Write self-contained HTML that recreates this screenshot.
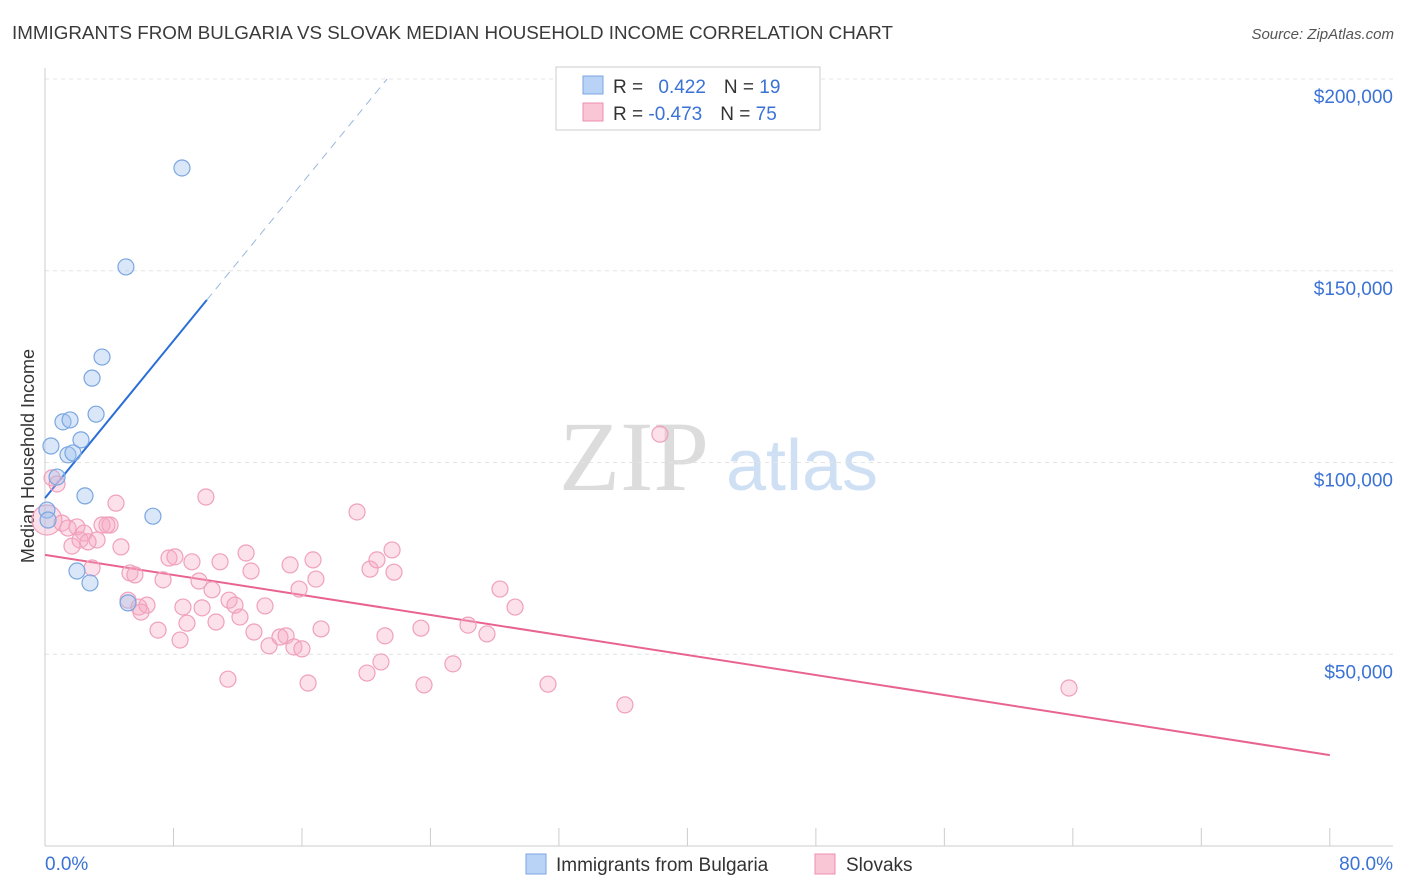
<!DOCTYPE html>
<html><head><meta charset="utf-8"><style>
body{margin:0;background:#fff;font-family:"Liberation Sans",sans-serif;}
svg{display:block}
</style></head><body>
<svg id="chart" width="1406" height="892">
<text x="12" y="39" font-size="18.5" textLength="881" lengthAdjust="spacingAndGlyphs" fill="#3a3a3a">IMMIGRANTS FROM BULGARIA VS SLOVAK MEDIAN HOUSEHOLD INCOME CORRELATION CHART</text>
<text x="1394" y="39" font-size="15" fill="#555" text-anchor="end" font-style="italic">Source: ZipAtlas.com</text>
<text x="634" y="490" font-size="100" fill="#dcdcdc" font-family="Liberation Serif,serif" text-anchor="middle">ZIP</text>
<text x="802" y="490" font-size="72" fill="#cfe0f4" text-anchor="middle">atlas</text>
<text transform="translate(34,456) rotate(-90)" font-size="18" fill="#333" text-anchor="middle">Median Household Income</text>
<g id="grid"></g><g id="axes"></g><g id="lines"></g><g id="pts"></g>
<g>
<rect x="556" y="67" width="264" height="63" fill="#fff" stroke="#ccc"/>
<rect x="583" y="76" width="20" height="18" fill="#b8d3f5" stroke="#7aa6e0"/>
<rect x="583" y="103" width="20" height="18" fill="#f8c6d5" stroke="#ee8fb0"/>
<text x="613" y="93" font-size="19" fill="#333">R = <tspan fill="#3a72d6" dx="10">0.422</tspan><tspan dx="18">N = </tspan><tspan fill="#3a72d6">19</tspan></text>
<text x="613" y="120" font-size="19" fill="#333">R = <tspan fill="#3a72d6">-0.473</tspan><tspan dx="18">N = </tspan><tspan fill="#3a72d6">75</tspan></text>
</g>
<g>
<rect x="526" y="854" width="20" height="20" fill="#b8d3f5" stroke="#7aa6e0"/>
<text x="556" y="871" font-size="19" fill="#333">Immigrants from Bulgaria</text>
<rect x="815" y="854" width="20" height="20" fill="#f8c6d5" stroke="#ee8fb0"/>
<text x="846" y="871" font-size="19" fill="#333">Slovaks</text>
</g>
</svg>
<script>
const yTicks=[50,100,150,200];
const yTickLabels=["$50,000","$100,000","$150,000","$200,000"];
const xTickVals=[0,8,16,24,32,40,48,56,64,72,80];
const bluX=[8.53,5.04,3.55,2.93,3.18,1.12,1.56,2.24,0.37,1.43,1.74,0.75,2.49,6.72,0.12,1.99,2.80,5.17,0.19];
const bluY=[176.8,151.0,127.5,122.0,112.6,110.6,111.1,105.9,104.3,102.0,102.5,96.2,91.3,86.0,87.6,71.7,68.6,63.4,85.0];
const pinkX=[38.29,10.02,4.42,19.43,0.44,0.75,0.12,1.06,1.43,1.99,2.43,3.24,1.68,3.55,4.05,4.73,2.93,5.29,5.60,7.35,7.72,8.09,9.15,10.90,12.52,12.83,15.26,16.69,16.87,15.82,9.59,10.40,5.17,5.85,6.35,5.98,7.04,8.41,8.59,8.84,9.78,10.65,11.46,11.83,12.14,13.01,13.70,13.95,14.63,15.01,15.50,16.00,16.38,17.19,20.24,20.67,21.61,21.73,21.17,20.92,20.05,23.41,23.60,25.40,26.34,27.52,28.33,29.27,31.32,36.11,63.76,11.39,3.86,2.18,2.68];
const pinkY=[107.4,91.0,89.4,87.1,96.0,94.4,85.0,84.2,82.9,83.2,81.6,79.8,78.2,83.7,83.7,78.0,72.5,71.2,70.7,69.4,75.1,75.4,74.1,74.1,76.4,71.7,73.3,74.6,69.6,67.0,69.1,66.8,64.1,62.3,62.8,61.0,56.3,53.7,62.3,58.1,62.1,58.4,64.1,62.8,59.7,55.8,62.6,52.2,54.5,54.8,51.9,51.4,42.5,56.6,72.2,74.6,77.2,71.4,54.8,48.0,45.1,56.8,42.0,47.5,57.6,55.3,67.0,62.3,42.2,36.8,41.2,43.5,83.7,79.8,79.3];
const bluLine=[[0,90.7],[10.08,142.4],[21.3,200]];
const pinkLine=[[0,75.9],[80,23.7]];
const X=v=>45+v*16.06, Y=v=>846-v*3.835;
const NS="http://www.w3.org/2000/svg";
function mk(t,a,p){const e=document.createElementNS(NS,t);for(const k in a)e.setAttribute(k,a[k]);document.getElementById(p).appendChild(e);return e;}
yTicks.forEach((t,i)=>{
 const g=mk('line',{x1:45,x2:1393,y1:Y(t),y2:Y(t),stroke:'#e4e4e4','stroke-dasharray':'4,4'},'grid');
 
 
 const l=mk('text',{x:1393,y:Y(t)+24,'font-size':19,fill:'#3a72d6','text-anchor':'end'},'axes');
 l.textContent=yTickLabels[i];
 
 
});
mk('line',{x1:45,x2:45,y1:68,y2:846,stroke:'#ccc'},'axes');
mk('line',{x1:45,x2:1393,y1:846,y2:846,stroke:'#ccc'},'axes');
xTickVals.forEach(v=>{const t=mk('line',{x1:X(v),x2:X(v),y1:828,y2:846,stroke:'#ccc'},'axes');
 
 });
const x0=mk('text',{x:45,y:870,'font-size':19,fill:'#3a72d6'},'axes');x0.textContent='0.0%';


const x1=mk('text',{x:1393,y:870,'font-size':19,fill:'#3a72d6','text-anchor':'end'},'axes');x1.textContent='80.0%';


pinkX.forEach((x,i)=>{const c=mk('circle',{cx:X(x),cy:Y(pinkY[i]),r:i==6?15:8,fill:'rgba(245,170,195,0.35)',stroke:'#f0a0bb','stroke-width':1.2},'pts');
 
 });
bluX.forEach((x,i)=>{const c=mk('circle',{cx:X(x),cy:Y(bluY[i]),r:8,fill:'rgba(160,195,240,0.4)',stroke:'#7aa6e0','stroke-width':1.2},'pts');
 
 });
const b1=mk('line',{x1:X(bluLine[0][0]),y1:Y(bluLine[0][1]),x2:X(bluLine[1][0]),y2:Y(bluLine[1][1]),stroke:'#2a6fd8','stroke-width':2},'lines');


const b2=mk('line',{x1:X(bluLine[1][0]),y1:Y(bluLine[1][1]),x2:X(bluLine[2][0]),y2:Y(bluLine[2][1]),stroke:'#9bb8e0','stroke-width':1,'stroke-dasharray':'8,6'},'lines');


const p1=mk('line',{x1:X(pinkLine[0][0]),y1:Y(pinkLine[0][1]),x2:X(pinkLine[1][0]),y2:Y(pinkLine[1][1]),stroke:'#e8648f','stroke-width':2},'lines');


</script>
</body></html>
